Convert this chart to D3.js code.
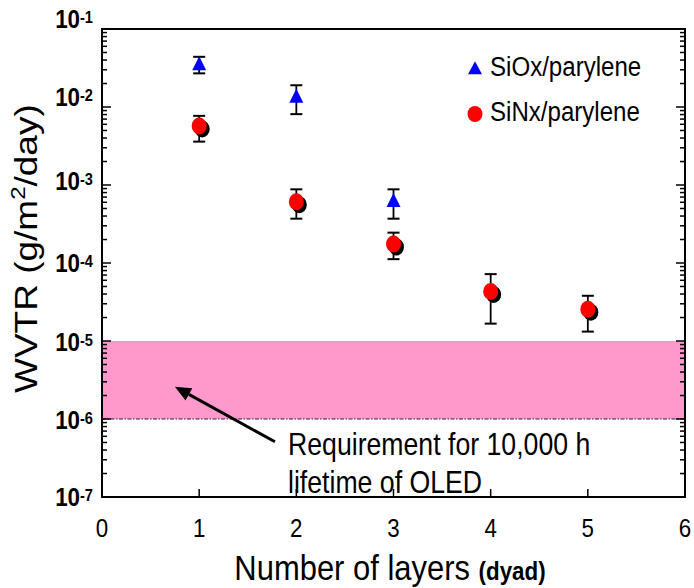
<!DOCTYPE html>
<html>
<head>
<meta charset="utf-8">
<script src="https://cdn.jsdelivr.net/npm/d3@7"></script>
<style>
  html, body { margin: 0; padding: 0; background: #fff; }
  svg { display: block; font-family: "Liberation Sans", Arial, Helvetica, sans-serif; }
</style>
</head>
<body>
<svg id="chart" width="694" height="588"></svg>
<script>
// data
const siOxLayers = [1, 2, 3];
const siOxWVTR = [3.4e-2, 1.3e-2, 6.0e-4];
const siOxLow = [2.7e-2, 8.1e-3, 3.7e-4];
const siOxHigh = [4.4e-2, 1.9e-2, 8.8e-4];

const siNxLayers = [1, 2, 3, 4, 5];
const siNxWVTR = [5.7e-3, 6.1e-4, 1.75e-4, 4.3e-5, 2.55e-5];
const siNxLow = [3.6e-3, 3.7e-4, 1.12e-4, 1.67e-5, 1.32e-5];
const siNxHigh = [7.7e-3, 8.8e-4, 2.45e-4, 7.2e-5, 3.8e-5];

const xTicks = [0, 1, 2, 3, 4, 5, 6];
const yDecades = [-1, -2, -3, -4, -5, -6, -7];
const band = [1e-6, 1e-5]; // requirement range

// label placement tweaks (pixels below the tick), as in the original
const yLabelNudge = [-1, -1, 5, 9, 10, 10, 9];

const SX = 0.86; // the picture is squeezed sideways

const svg = d3.select("#chart");
const x = d3.scaleLinear().domain([0, 6]).range([102, 685]);
const y = d3.scaleLog().domain([1e-7, 1e-1]).range([497, 29]);

// squeezed text helper
function stext(px, py, size, anchor, weight) {
  return svg.append("g")
    .attr("transform", `translate(${px},${py}) scale(${SX},1)`)
    .append("text")
    .attr("text-anchor", anchor || "start")
    .attr("font-size", size)
    .attr("font-weight", weight || "normal")
    .attr("fill", "#000");
}

// pink requirement band
svg.append("rect")
  .attr("x", x(0)).attr("width", x(6) - x(0))
  .attr("y", y(band[1])).attr("height", y(band[0]) - y(band[1]))
  .attr("fill", "#ff99cc");
svg.append("line")
  .attr("x1", x(0)).attr("x2", x(6))
  .attr("y1", y(band[0])).attr("y2", y(band[0]))
  .attr("stroke", "#222244").attr("stroke-width", 1.2)
  .attr("stroke-dasharray", "4,1.5,1.5,1.5");

// log ticks on left and right, pointing inward
const yTicks = y.ticks();
yTicks.forEach(t => {
  const major = Math.abs(Math.log10(t) - Math.round(Math.log10(t))) < 1e-9;
  const len = major ? 9 : 5;
  svg.append("line").attr("x1", x(0)).attr("x2", x(0) + len)
    .attr("y1", y(t)).attr("y2", y(t)).attr("stroke", "#000").attr("stroke-width", 1.5);
  svg.append("line").attr("x1", x(6)).attr("x2", x(6) - len)
    .attr("y1", y(t)).attr("y2", y(t)).attr("stroke", "#000").attr("stroke-width", 1.5);
});

// bottom ticks
xTicks.slice(1, -1).forEach(t => {
  svg.append("line").attr("x1", x(t)).attr("x2", x(t))
    .attr("y1", y(1e-7)).attr("y2", y(1e-7) - 8)
    .attr("stroke", "#000").attr("stroke-width", 1.5);
});

// frame
svg.append("rect")
  .attr("x", x(0)).attr("y", y(1e-1))
  .attr("width", x(6) - x(0)).attr("height", y(1e-7) - y(1e-1))
  .attr("fill", "none").attr("stroke", "#000").attr("stroke-width", 2);

// y tick labels 10^n
yDecades.forEach((e, i) => {
  const t = stext(93, y(Math.pow(10, e)) + yLabelNudge[i], 26, "end", "bold");
  t.append("tspan").text("10");
  t.append("tspan").attr("font-size", 17).attr("dy", -5).text(e);
});

// x tick labels
xTicks.forEach(t => {
  stext(x(t), 537, 26, "middle").text(t);
});

// axis titles
const yt = svg.append("g")
  .attr("transform", `translate(37,393) scale(${SX},1) rotate(-90)`)
  .append("text").attr("font-size", 37).attr("fill", "#000");
yt.append("tspan").text("WVTR (g/m");
yt.append("tspan").attr("font-size", 24).attr("dy", -14).text("2");
yt.append("tspan").attr("dy", 14).text("/day)");

const xt = stext(390, 580, 36, "middle");
xt.append("tspan").text("Number of layers ");
xt.append("tspan").attr("font-weight", "bold").attr("font-size", 26).text("(dyad)");

// error bars
function errorBars(xs, lo, hi) {
  xs.forEach((v, i) => {
    const cx = x(v);
    svg.append("line").attr("x1", cx).attr("x2", cx)
      .attr("y1", y(lo[i])).attr("y2", y(hi[i]))
      .attr("stroke", "#000").attr("stroke-width", 1.8);
    [lo[i], hi[i]].forEach(b => {
      svg.append("line").attr("x1", cx - 6).attr("x2", cx + 6)
        .attr("y1", y(b)).attr("y2", y(b))
        .attr("stroke", "#000").attr("stroke-width", 2);
    });
  });
}
errorBars(siOxLayers, siOxLow, siOxHigh);
errorBars(siNxLayers, siNxLow, siNxHigh);

// triangle path centred on its centroid
function tri(cx, cy, w, h) {
  return `M${cx},${cy - h * 2 / 3} L${cx + w / 2},${cy + h / 3} L${cx - w / 2},${cy + h / 3} Z`;
}

// SiOx triangles
svg.selectAll(".siox").data(siOxLayers).enter().append("path")
  .attr("d", (d, i) => tri(x(d), y(siOxWVTR[i]), 14, 14))
  .attr("fill", "#0000ff");

// SiNx circles with shadow
svg.selectAll(".sinxs").data(siNxLayers).enter().append("ellipse")
  .attr("cx", d => x(d) + 3).attr("cy", (d, i) => y(siNxWVTR[i]) + 3)
  .attr("rx", 7.5).attr("ry", 8.5).attr("fill", "#000");
svg.selectAll(".sinx").data(siNxLayers).enter().append("ellipse")
  .attr("cx", d => x(d)).attr("cy", (d, i) => y(siNxWVTR[i]))
  .attr("rx", 7.5).attr("ry", 8.5).attr("fill", "#ff0000");

// legend
svg.append("path").attr("d", tri(475, 70, 14, 13)).attr("fill", "#0000ff");
stext(490, 76, 28).text("SiOx/parylene");
svg.append("ellipse").attr("cx", 475).attr("cy", 114).attr("rx", 7.5).attr("ry", 8)
  .attr("fill", "#ff0000");
stext(490, 121, 28).text("SiNx/parylene");

// annotation arrow and text
const arrowTip = [0.75, 2.6e-6];
const arrowTail = [1.78, 5.1e-7];
const ax1 = x(arrowTail[0]), ay1 = y(arrowTail[1]);
const ax2 = x(arrowTip[0]), ay2 = y(arrowTip[1]);
const ang = Math.atan2(ay2 - ay1, ax2 - ax1);
const headLen = 16, headW = 7;
const bx = ax2 - headLen * Math.cos(ang), by = ay2 - headLen * Math.sin(ang);
svg.append("line").attr("x1", ax1).attr("y1", ay1).attr("x2", bx).attr("y2", by)
  .attr("stroke", "#000").attr("stroke-width", 3);
svg.append("path")
  .attr("d", `M${ax2},${ay2} L${bx + headW * Math.sin(ang)},${by - headW * Math.cos(ang)} L${bx - headW * Math.sin(ang)},${by + headW * Math.cos(ang)} Z`)
  .attr("fill", "#000");

stext(288, 455, 31).text("Requirement for 10,000 h");
stext(288, 493, 31).text("lifetime of OLED");
</script>
</body>
</html>
